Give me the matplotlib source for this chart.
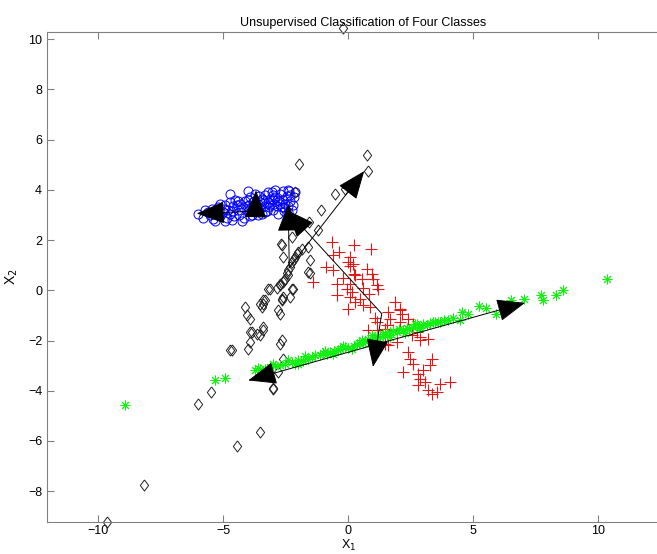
import matplotlib
matplotlib.use('Agg')
import matplotlib.pyplot as plt

plt.rcParams['font.family'] = ['Liberation Sans', 'DejaVu Sans']

# class 1 (blue circles)
blue_x = [-6.0, -5.8, -5.7, -5.5, -5.4, -5.3, -5.2, -5.1, -5.0, -4.9, -4.85, -4.8, -4.7, -4.6,
          -4.55, -4.5, -4.4, -4.35, -4.3, -4.2, -4.15, -4.1, -4.0, -3.95, -3.9, -3.85, -3.8, -3.75,
          -3.7, -3.6, -3.55, -3.5, -3.45, -3.4, -3.35, -3.3, -3.25, -3.2, -3.15, -3.1, -3.05, -3.0,
          -2.95, -2.9, -2.85, -2.8, -2.75, -2.7, -2.65, -2.6, -2.55, -2.5, -2.45, -2.4, -2.35, -2.3,
          -2.25, -2.2, -2.15, -2.4, -3.6, -4.0, -4.7, -5.1, -3.3, -3.7, -2.9, -2.1, -4.25, -4.9,
          -3.9, -3.2, -3.0, -2.6, -3.5, -3.8, -4.4, -5.3, -4.0, -4.7, -2.4,
          -5.6, -5.45, -4.95, -4.65, -4.45, -4.05, -3.65, -3.35, -3.1, -2.85, -2.55, -2.3,
          -3.95, -3.45, -3.0, -2.7, -4.6, -5.2]
blue_y = [3.05, 2.9, 3.2, 3.0, 2.85, 3.15, 3.3, 2.95, 3.1, 3.4, 2.9, 3.2, 3.05, 3.35,
          2.95, 3.6, 3.2, 3.0, 3.45, 3.3, 2.9, 3.55, 3.15, 3.4, 3.7, 3.0, 3.3, 3.55,
          3.15, 3.45, 3.75, 3.25, 3.05, 3.6, 3.35, 3.8, 3.15, 3.5, 3.3, 3.65, 3.9, 3.2,
          3.45, 3.7, 3.35, 3.05, 3.55, 3.85, 3.3, 3.6, 3.15, 3.45, 3.75, 3.35, 3.95, 3.55,
          3.2, 3.4, 3.7, 3.1, 3.0, 3.6, 3.5, 3.45, 3.1, 3.85, 4.0, 3.9, 2.75, 2.75,
          2.95, 3.9, 3.6, 3.95, 3.5, 3.5, 3.55, 2.75, 3.95, 3.85, 3.98,
          3.1, 3.25, 3.25, 2.8, 3.4, 3.35, 3.25, 3.5, 3.4, 3.6, 3.3, 3.8,
          3.2, 3.65, 3.8, 3.45, 3.15, 3.05]

# class 2 (black diamonds)
black_x = [-0.2, -1.95, 0.75, 0.81, -0.12, -0.52, -1.09, -1.55, -1.19, -2.12, -1.59, -1.52,
           -1.52, -2.65, -2.59, -2.25, -1.85, -1.99, -2.12, -2.25, -2.32, -2.39, -2.45, -2.52,
           -2.59, -2.72, -2.85, -3.12, -2.25, -2.32, -2.65, -2.59, -3.39, -3.45, -4.12, -4.05,
           -2.79, -2.72, -3.92, -3.65, -3.39, -3.92, -2.65, -2.72, -4.65, -2.59, -2.79, -2.99,
           -4.72, -5.99, -5.49, -3.92, -3.52, -3.39, -3.85, -3.52, -3.99, -3.39, -2.65, -2.19,
           -3.19, -4.45, -3.52, -8.17, -9.65, -3.01, -1.59, -2.69, -3.32, -2.05, -2.15, -2.4,
           -2.55, -2.7]
black_y = [10.45, 5.02, 5.38, 4.75, 4.05, 3.85, 3.21, 2.72, 2.39, 3.92, 1.73, 1.2,
           0.68, 1.79, 1.33, 2.12, 1.66, 1.53, 1.33, 1.13, 0.93, 0.8, 0.67, 0.47,
           0.33, 0.2, 0.11, 0.07, 0.07, -0.27, -0.33, -0.27, -0.53, -0.66, -0.66, -1.0,
           -0.8, -0.93, -1.66, -1.73, -1.59, -2.06, -1.99, -2.12, -2.39, -2.72, -3.25, -3.92,
           -2.39, -4.51, -4.05, -1.13, -0.53, -0.4, -1.66, -1.79, -2.32, -1.46, -0.4, 0.07,
           0.07, -6.22, -5.65, -7.77, -9.23, -3.88, 0.73, 1.83, -0.4, 1.45, 1.25, 0.6,
           0.4, 0.25]

# class 3 (red plus)
red_x = [-0.65, 0.25, 0.92, -0.35, -0.61, 0.08, 0.01, 0.21, 0.08, -0.88, -0.59, 0.75, 0.25,
         0.95, 1.01, 0.55, -1.39, 0.08, -0.45, 1.15, 1.21, -0.05, 0.15, 0.85, -0.45, 0.08,
         0.48, 0.28, 1.88, 0.61, 0.88, 0.01, 2.08, 2.15, 1.61, 1.68, 2.41, 1.08, 1.15, 2.08,
         2.61, 1.55, 0.81, 1.15, 1.48, 1.81, 2.75, 2.88, 3.21, 1.95, 1.61, 1.48, 2.41, 2.48,
         3.35, 2.61, 3.28, 2.21, 2.81, 3.01, 2.88, 3.08, 2.81, 3.68, 4.08, 3.21, 3.35, 3.55,
         2.08, 2.55, 2.88, 0.3, 0.6, -0.2]
red_y = [1.92, 1.79, 1.63, 1.53, 1.39, 1.33, 1.13, 1.06, 0.96, 0.93, 0.8, 0.86, 0.66,
         0.66, 0.47, 0.47, 0.33, 0.27, 0.27, 0.2, 0.07, 0.07, -0.07, -0.13, -0.2, -0.27,
         -0.33, -0.47, -0.47, -0.6, -0.66, -0.73, -0.73, -0.93, -0.86, -1.13, -1.13, -1.09, -1.26, -1.26,
         -1.33, -1.39, -1.59, -1.59, -1.53, -1.59, -1.66, -1.86, -1.93, -2.06, -2.19, -2.12, -2.46, -2.72,
         -2.72, -2.92, -2.99, -3.25, -3.32, -3.19, -3.52, -3.65, -3.78, -3.72, -3.65, -3.98, -4.12, -4.05,
         -0.8, -1.79, -1.99, 0.6, 0.1, 0.5]

# class 4 (green stars)
green_x = [-8.92, -5.32, -4.92, -3.72, -3.6, -3.52, -3.32, -3.1, -2.9, -2.7, -2.5, -2.25, -2.12,
           -1.99, -1.8, -1.6, -1.45, -1.32, -1.12, -1.0, -0.85, -0.72, -0.55, -0.4, -0.32, -0.12,
           0.0, 0.15, 0.25, 0.35, 0.45, 0.55, 0.7, 0.81, 0.95, 1.05, 1.15, 1.28, 1.4, 1.48,
           1.58, 1.68, 1.8, 1.95, 2.05, 2.21, 2.35, 2.45, 2.61, 2.68, 2.75, 2.85, 3.0, 3.15,
           3.3, 3.41, 3.48, 3.61, 3.68, 3.85, 4.01, 4.2, 4.48, 4.55, 4.81, 5.25, 5.52, 5.92,
           6.51, 7.05, 7.72, 7.81, 8.32, 8.59, 10.37, -3.0, -2.4, -1.7, -0.9, -0.2, 0.6, 1.1,
           1.7, 2.3, 2.9, -2.0, -0.6, 0.9]
green_y = [-4.58, -3.56, -3.49, -3.19, -3.1, -3.12, -3.12, -3.05, -3.0, -2.98, -2.92, -2.86, -2.92,
           -2.79, -2.8, -2.72, -2.66, -2.59, -2.59, -2.5, -2.52, -2.46, -2.4, -2.36, -2.32, -2.26,
           -2.3, -2.32, -2.2, -2.12, -2.08, -1.99, -2.02, -1.93, -1.79, -1.9, -1.82, -1.86, -1.74, -1.73,
           -1.78, -1.66, -1.62, -1.66, -1.55, -1.59, -1.52, -1.56, -1.46, -1.33, -1.33, -1.45, -1.36, -1.39,
           -1.3, -1.26, -1.26, -1.26, -1.26, -1.2, -1.17, -1.1, -1.2, -0.86, -0.93, -0.64, -0.69, -0.93,
           -0.37, -0.33, -0.2, -0.4, -0.17, 0.0, 0.47, -2.95, -2.78, -2.62, -2.42, -2.2, -2.1, -1.98,
           -1.85, -1.7, -1.52, -2.95, -2.55, -2.08]

# basis vectors of each class (start -> tip)
arrow_x0 = [-3.7, -3.7, -2.35, -2.35, 1.35, 1.35, 1.5, 1.5]
arrow_y0 = [3.15, 3.15, 0.9, 0.9, -0.93, -0.93, -2.05, -2.05]
arrow_x1 = [-6.05, -3.68, 0.65, -2.39, -2.45, 1.0, -3.99, 7.08]
arrow_y1 = [3.06, 3.98, 4.75, 3.45, 3.2, -3.05, -3.59, -0.5]

fig = plt.figure(figsize=(6.57, 5.54), dpi=100)
ax = fig.add_axes([47 / 657, 32 / 554, 633 / 657, 490 / 554])

ax.plot(blue_x, blue_y, 'o', mfc='none', mec='#0000ff', ms=6.5, mew=0.7, clip_on=False)
diamond = [(0, 1), (0.75, 0), (0, -1), (-0.75, 0), (0, 1)]
ax.plot(black_x, black_y, ls='none', marker=diamond, mfc='none', mec='#222222', ms=8, mew=0.7, clip_on=False)
ax.plot(red_x, red_y, '+', color='#e01818', ms=8, mew=0.8, clip_on=False)
ax.plot(green_x, green_y, ls='none', marker=(8, 2, 0), color='#11f011', ms=7, mew=0.7, clip_on=False)

for x0, y0, x1, y1 in zip(arrow_x0, arrow_y0, arrow_x1, arrow_y1):
    ax.annotate('', xy=(x1, y1), xytext=(x0, y0),
                arrowprops=dict(arrowstyle='-|>,head_length=0.75,head_width=0.3',
                                mutation_scale=24, color='black', lw=0.7,
                                shrinkA=0, shrinkB=0))

ax.set_xlim(-12.04, 13.28)
ax.set_ylim(-9.23, 10.29)
ax.set_xticks([-10, -5, 0, 5, 10])
ax.set_yticks([-8, -6, -4, -2, 0, 2, 4, 6, 8, 10])
ax.tick_params(direction='in', top=True, right=True, labelsize=9, length=5, color='#808080', width=0.8)
ax.tick_params(axis='x', pad=2)
for s in ax.spines.values():
    s.set_color('#808080')
    s.set_linewidth(0.8)

ax.set_title('Unsupervised Classification of Four Classes', fontsize=9, pad=4)
ax.set_xlabel('X$_1$', fontsize=9)
ax.xaxis.set_label_coords(0.477, -0.032)
ax.set_ylabel('X$_2$', fontsize=10, labelpad=6)

fig.savefig('out.png', dpi=100)
